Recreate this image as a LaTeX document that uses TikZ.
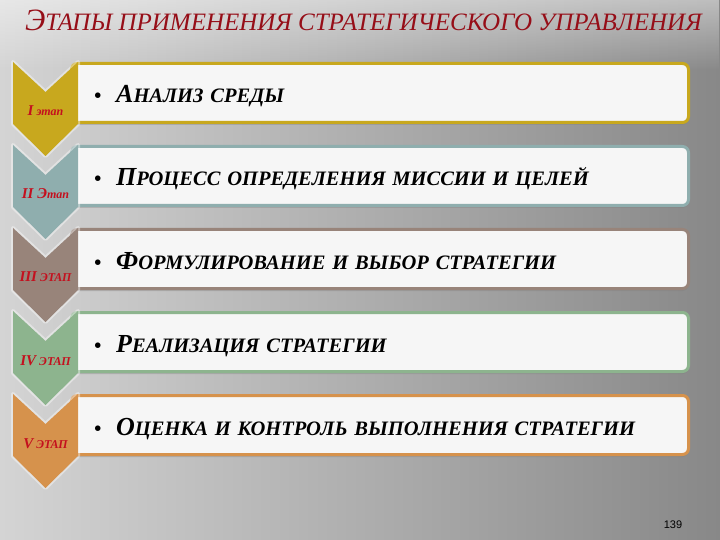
\documentclass[tikz,border=0pt]{standalone}
\usepackage{fontspec}
\setmainfont{Liberation Serif}
\setsansfont{Liberation Sans}
\usetikzlibrary{positioning,shadows,fadings}
\definecolor{bgleft}{RGB}{212,212,212}
\definecolor{bgright}{RGB}{136,136,136}
\definecolor{titlered}{RGB}{150,14,24}
\definecolor{labelred}{RGB}{196,16,30}
\definecolor{boxfill}{RGB}{246,246,246}
\definecolor{stageA}{RGB}{200,168,30}
\definecolor{stageB}{RGB}{143,174,174}
\definecolor{stageC}{RGB}{152,132,122}
\definecolor{stageD}{RGB}{141,180,142}
\definecolor{stageE}{RGB}{214,146,76}
\newcommand\capword[3]{{\fontsize{#1}{#1}\selectfont #2}#3}
\begin{document}
\begin{tikzpicture}[x=1bp,y=-1bp,
        stagebox/.style={rectangle,rounded corners=6bp,line width=3bp,fill=boxfill,anchor=north west,
            minimum width=617bp,minimum height=59bp,text width=572bp,align=left,inner xsep=0pt,
            text height=20bp,text depth=0bp,font=\fontsize{20.5bp}{20.5bp}\selectfont\bfseries\itshape,
            drop shadow={shadow xshift=0bp,shadow yshift=-2.5bp,opacity=0.35}},
        stagelabel/.style={anchor=base,inner sep=0pt,text=labelred,font=\fontsize{12bp}{12bp}\selectfont\bfseries\itshape},
        chevron/.pic={
            \draw[white,opacity=0.4,line width=4bp,line join=round] (0,0) -- (32.5,30) -- (65,0) -- (65,62) -- (32.5,94) -- (0,62) -- cycle;
            \fill[pic actions] (0,0) -- (32.5,30) -- (65,0) -- (65,62) -- (32.5,94) -- (0,62) -- cycle;
        }]
        \fill[left color=bgleft,right color=bgright] (0,0) rectangle (720,540);
        \fill[white,opacity=0.45,path fading=south] (0,0) rectangle (720,70);
        \node[anchor=base west,inner sep=0pt,text=titlered,font=\fontsize{25bp}{25bp}\selectfont\itshape] (title) at (25,31)
            {\capword{31bp}{Э}{ТАПЫ ПРИМЕНЕНИЯ СТРАТЕГИЧЕСКОГО УПРАВЛЕНИЯ}};
        \node[stagebox,draw=stageA] (boxA) at (70,62) {\textbullet\hspace{15bp}\capword{26bp}{А}{НАЛИЗ СРЕДЫ}};
        \node[stagebox,draw=stageB] (boxB) at (70,145) {\textbullet\hspace{15bp}\capword{26bp}{П}{РОЦЕСС ОПРЕДЕЛЕНИЯ МИССИИ И ЦЕЛЕЙ}};
        \node[stagebox,draw=stageC] (boxC) at (70,228) {\textbullet\hspace{15bp}\capword{26bp}{Ф}{ОРМУЛИРОВАНИЕ И ВЫБОР СТРАТЕГИИ}};
        \node[stagebox,draw=stageD] (boxD) at (70,311) {\textbullet\hspace{15bp}\capword{26bp}{Р}{ЕАЛИЗАЦИЯ СТРАТЕГИИ}};
        \node[stagebox,draw=stageE] (boxE) at (70,394) {\textbullet\hspace{15bp}\capword{26bp}{О}{ЦЕНКА И КОНТРОЛЬ ВЫПОЛНЕНИЯ СТРАТЕГИИ}};
        \pic[fill=stageA] (chevA) at (13,62) {chevron};
        \pic[fill=stageB] (chevB) at (13,145) {chevron};
        \pic[fill=stageC] (chevC) at (13,228) {chevron};
        \pic[fill=stageD] (chevD) at (13,311) {chevron};
        \pic[fill=stageE] (chevE) at (13,394) {chevron};
        \node[stagelabel] (lblA) at (45.5,116) {\capword{15bp}{I}{ этап}};
        \node[stagelabel] (lblB) at (45.5,199) {\capword{15bp}{II Э}{тап}};
        \node[stagelabel] (lblC) at (45.5,282) {\capword{15bp}{III}{ ЭТАП}};
        \node[stagelabel] (lblD) at (45.5,365) {\capword{15bp}{IV}{ ЭТАП}};
        \node[stagelabel] (lblE) at (45.5,448) {\capword{15bp}{V}{ ЭТАП}};
        \node[anchor=base,inner sep=0pt,font=\sffamily\fontsize{11bp}{11bp}\selectfont] (page) at (673,528) {139};
\end{tikzpicture}
\end{document}
